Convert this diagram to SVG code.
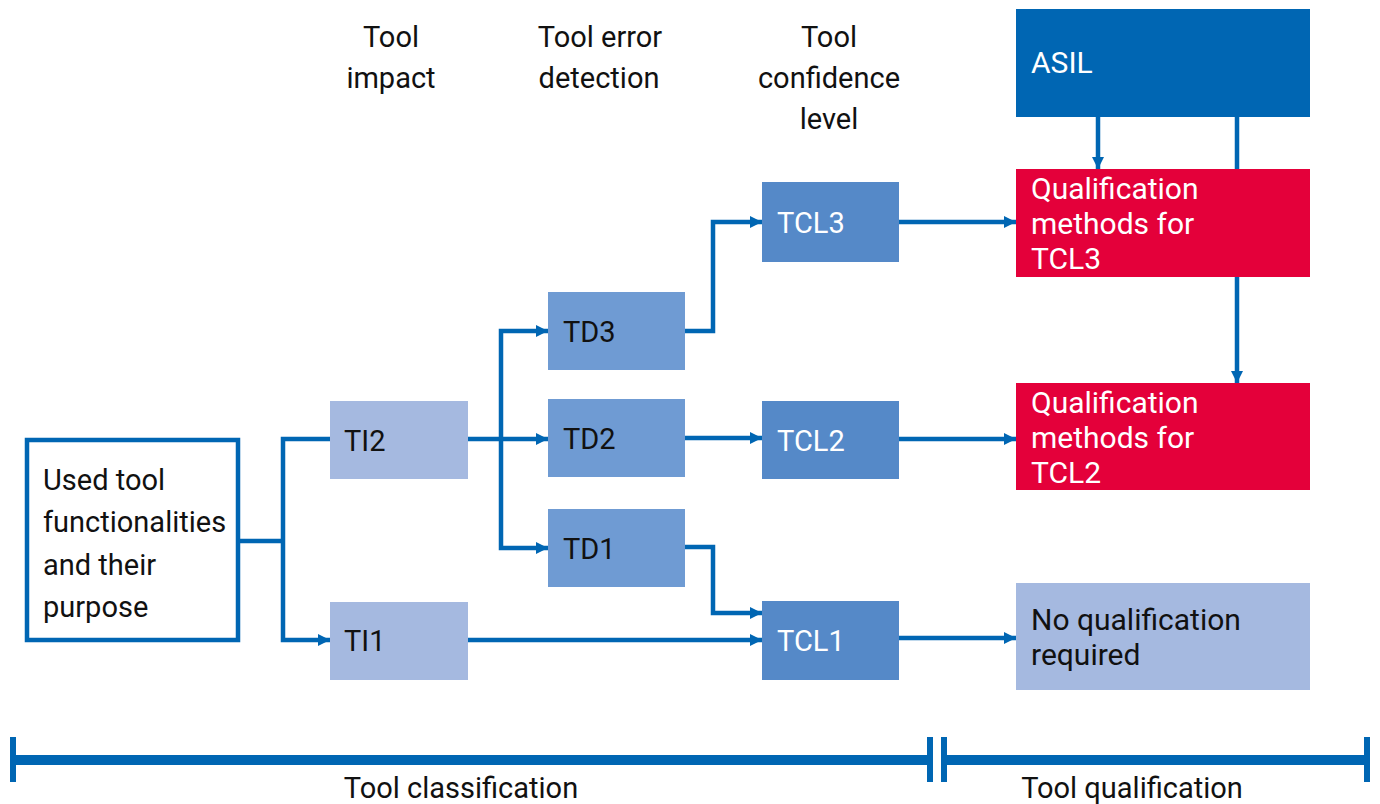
<svg xmlns="http://www.w3.org/2000/svg" width="1380" height="804" viewBox="0 0 1380 804">
<style>
text{font-family:Roboto,"Liberation Sans",sans-serif;font-size:29px;fill:#111}
.w{fill:#fff}
.q{font-size:30px}
.h{font-size:29px;text-anchor:middle}
.c{fill:none;stroke:#0066B3;stroke-width:4.5}
.ti{fill:#A5B9E0}.td{fill:#6F9BD3}.tcl{fill:#5589C8}.red{fill:#E4003A}.blue{fill:#0066B3}
</style>
<defs>
<marker id="ah" markerUnits="userSpaceOnUse" markerWidth="13" markerHeight="13" refX="12" refY="6.5" orient="auto">
<path d="M0,0.5 L12,6.5 L0,12.5 z" fill="#0066B3"/>
</marker>
</defs>
<g id="headers">
<text class="h" x="391" y="47">Tool</text>
<text class="h" x="391" y="88">impact</text>
<text class="h" x="600" y="47">Tool error</text>
<text class="h" x="599" y="88">detection</text>
<text class="h" x="829" y="47">Tool</text>
<text class="h" x="829" y="88">confidence</text>
<text class="h" x="829" y="129">level</text>
</g>
<g id="connectors">
<path class="c" d="M1237,117 V383" marker-end="url(#ah)"/>
<path class="c" d="M1098,117 V169" marker-end="url(#ah)"/>
<path class="c" d="M240,541 H283"/>
<path class="c" d="M330,439 H283 V640 H330" marker-end="url(#ah)" marker-start="url(#ah)"/>
<path class="c" d="M468,439 H548" marker-end="url(#ah)"/>
<path class="c" d="M501,439 V331 H548" marker-end="url(#ah)"/>
<path class="c" d="M501,439 V548 H548" marker-end="url(#ah)"/>
<path class="c" d="M685,331 H713 V222 H762" marker-end="url(#ah)"/>
<path class="c" d="M685,438 H762" marker-end="url(#ah)"/>
<path class="c" d="M685,547 H713 V613 H762" marker-end="url(#ah)"/>
<path class="c" d="M468,640 H762" marker-end="url(#ah)"/>
<path class="c" d="M899,222 H1016" marker-end="url(#ah)"/>
<path class="c" d="M899,439 H1016" marker-end="url(#ah)"/>
<path class="c" d="M899,638 H1016" marker-end="url(#ah)"/>
</g>
<g id="used-tool">
<rect x="27" y="440" width="211" height="200" fill="#fff" stroke="#0066B3" stroke-width="4.5"/>
<text x="43" y="490">Used tool</text>
<text x="43" y="532">functionalities</text>
<text x="43" y="575">and their</text>
<text x="43" y="617">purpose</text>
</g>
<g id="TI2"><rect class="ti" x="330" y="401" width="138" height="78"/><text x="344" y="451">TI2</text></g>
<g id="TI1"><rect class="ti" x="330" y="602" width="138" height="78"/><text x="344" y="651">TI1</text></g>
<g id="TD3"><rect class="td" x="548" y="292" width="137" height="78"/><text x="563" y="342">TD3</text></g>
<g id="TD2"><rect class="td" x="548" y="399" width="137" height="78"/><text x="563" y="449">TD2</text></g>
<g id="TD1"><rect class="td" x="548" y="509" width="137" height="78"/><text x="563" y="559">TD1</text></g>
<g id="TCL3"><rect class="tcl" x="762" y="182" width="137" height="80"/><text class="w" x="777" y="233">TCL3</text></g>
<g id="TCL2"><rect class="tcl" x="762" y="401" width="137" height="78"/><text class="w" x="777" y="451">TCL2</text></g>
<g id="TCL1"><rect class="tcl" x="762" y="601" width="137" height="79"/><text class="w" x="777" y="651">TCL1</text></g>
<g id="ASIL"><rect class="blue" x="1016" y="9" width="294" height="108"/><text class="w q" x="1031" y="73">ASIL</text></g>
<g id="Q3"><rect class="red" x="1016" y="169" width="294" height="108"/>
<text class="w q" x="1031" y="199">Qualification</text><text class="w q" x="1031" y="234">methods for</text><text class="w q" x="1031" y="269">TCL3</text></g>
<g id="Q2"><rect class="red" x="1016" y="383" width="294" height="107"/>
<text class="w q" x="1031" y="413">Qualification</text><text class="w q" x="1031" y="448">methods for</text><text class="w q" x="1031" y="483">TCL2</text></g>
<g id="NoQ"><rect class="ti" x="1016" y="583" width="294" height="107"/>
<text class="q" x="1031" y="630">No qualification</text><text class="q" x="1031" y="665">required</text></g>
<g id="scale">
<rect class="blue" x="10" y="737" width="6" height="45"/>
<rect class="blue" x="10" y="755" width="921" height="10"/>
<rect class="blue" x="927" y="737" width="6" height="45"/>
<rect class="blue" x="941" y="737" width="6" height="45"/>
<rect class="blue" x="941" y="755" width="427" height="10"/>
<rect class="blue" x="1364" y="737" width="6" height="45"/>
<text class="h" x="461" y="798">Tool classification</text>
<text class="h" x="1132" y="798">Tool qualification</text>
</g>
</svg>
